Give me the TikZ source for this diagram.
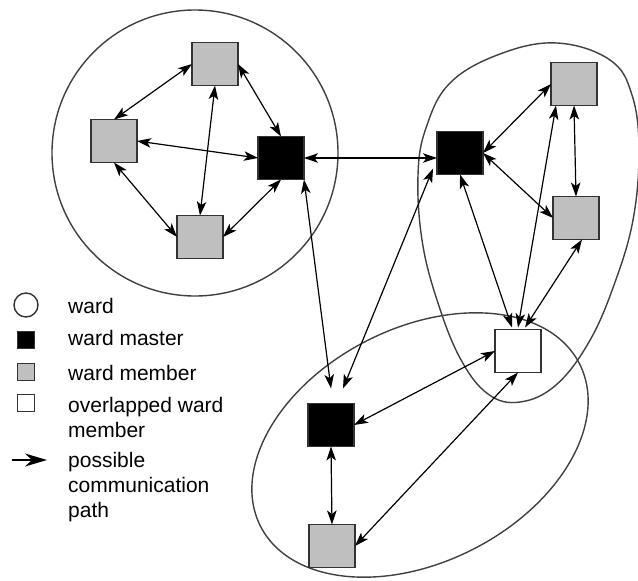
\documentclass[tikz,border=0pt]{standalone}
\usepackage{fontspec}
\setmainfont{Liberation Sans}
\usetikzlibrary{arrows.meta}
\begin{document}
\begin{tikzpicture}[x=1pt,y=-1pt,
  box/.style={draw=black!80, line width=1.2pt, minimum width=46pt, minimum height=43pt, inner sep=0pt, outer sep=0pt},
  master/.style={box, fill=black},
  member/.style={box, fill=black!25},
  overlap/.style={box, fill=white},
  link/.style={line width=1.2pt, {Stealth[length=14pt,width=9.5pt,inset=3.5pt]}-{Stealth[length=14pt,width=9.5pt,inset=3.5pt]}},
  ward/.style={draw=black!75, line width=1.4pt},
  legtext/.style={anchor=base west, inner sep=0pt, font=\fontsize{21}{25}\selectfont},
  legbox/.style={draw=black!80, line width=1.2pt, minimum size=17pt, inner sep=0pt}
]
\useasboundingbox (0,0) rectangle (638,581);

% wards
\draw[ward] (195,153) circle[radius=143];
\draw[ward] plot[smooth cycle, tension=0.65] coordinates {
  (557,43) (610,60) (632,95) (639,150) (633,220) (614,285) (589,342)
  (556,385) (520,402) (488,394) (460,358) (437,300) (422,240) (418,175)
  (426,128) (450,83) (500,54)};
\draw[ward, rotate around={27:(420,445)}] (420,445) ellipse[x radius=179, y radius=117];

% first ward
\node[master] (lm) at (281,158) {};
\node[member] (lt) at (215,64) {};
\node[member] (ll) at (114,141) {};
\node[member] (lb) at (200,237) {};

% second ward
\node[master] (rm) at (460,153) {};
\node[member] (rt) at (574,84) {};
\node[member] (rr) at (576,218) {};
\node[overlap] (ov) at (518,351) {};

% third ward
\node[master] (bm) at (331,425) {};
\node[member] (bb) at (332,546) {};

% links inside the first ward
\draw[link] (lt.west) -- (ll.north);
\draw[link] (lt.east) -- (lm.north);
\draw[link] (lt.south) -- (lb.north);
\draw[link] (ll.east) -- (lm.west);
\draw[link] (ll.south) -- (lb.west);
\draw[link] (lb.east) -- (lm.south);

% links between masters
\draw[link] (lm.east) -- (lm.east -| rm.west);
\draw[link] (lm.south east) -- ([yshift=15pt]bm.north);
\draw[link] ([xshift=12pt,yshift=15pt]bm.north) -- ([xshift=-4pt,yshift=6pt]rm.south west);

% links inside the second ward
\draw[link] (rm.east) -- (rt.west);
\draw[link] (rm.east) -- (rr.west);
\draw[link] (rt.south) -- (rr.north);
\draw[link] (rm.south) -- ([xshift=-6pt,yshift=2pt]ov.north);
\draw[link] ([xshift=5pt]rt.south west) -- ([yshift=2pt]ov.north);
\draw[link] ([xshift=6pt]rr.south) -- ([xshift=7pt,yshift=2pt]ov.north);

% links inside the third ward
\draw[link] (bm.east) -- (ov.west);
\draw[link] (ov.south) -- (bb.east);
\draw[link] (bm.south) -- (bb.north);

% legend
\node[draw=black!80, line width=1.4pt, circle, minimum size=24pt, inner sep=0pt] (kward) at (26,305) {};
\node[legbox, fill=black] (kmaster) at (26,340) {};
\node[legbox, fill=black!25] (kmember) at (26,372) {};
\node[legbox, fill=white] (koverlap) at (26,403) {};
\coordinate (ka) at (12,460);
\coordinate (kb) at (47,460);
\draw[line width=1.3pt, -{Stealth[length=22pt,width=13pt,inset=7pt]}] (ka) -- (kb);

\node[legtext] (tward) at (68,313) {ward};
\node[legtext] (tmaster) at (68,345) {ward master};
\node[legtext] (tmember) at (68,380) {ward member};
\node[legtext] (tover1) at (68,412) {overlapped ward};
\node[legtext] (tover2) at (68,437) {member};
\node[legtext] (tpath1) at (68,467) {possible};
\node[legtext] (tpath2) at (68,492) {communication};
\node[legtext] (tpath3) at (68,517) {path};
\end{tikzpicture}
\end{document}
